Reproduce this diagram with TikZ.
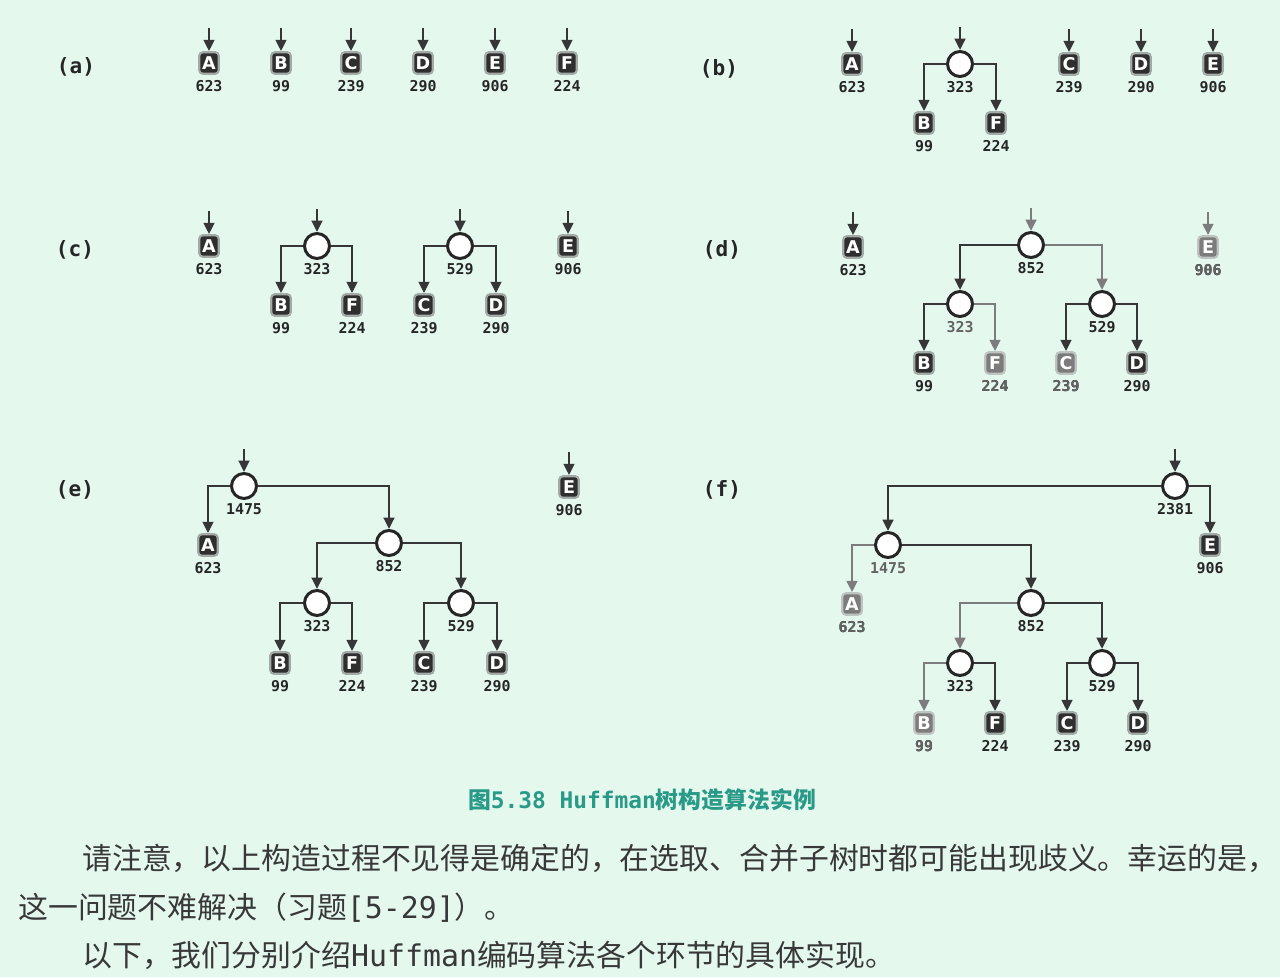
\documentclass[tikz,border=0pt]{standalone}
\usepackage{fontspec}
\setmainfont{DejaVu Sans}
\setsansfont{DejaVu Sans}
\setmonofont{DejaVu Sans Mono}
\newfontfamily\cjk{Noto Sans CJK SC}
\usetikzlibrary{arrows.meta}
\definecolor{bgmint}{HTML}{E4F8EE}
\definecolor{linedark}{HTML}{363636}
\definecolor{boxdark}{HTML}{2F2F2F}
\definecolor{halo}{HTML}{A3ABA7}
\definecolor{fadegray}{HTML}{7C7C7C}
\definecolor{captionteal}{HTML}{2A9A88}
\definecolor{bodytext}{HTML}{383838}
\tikzset{
  num/.style={font=\ttfamily\bfseries\fontsize{8.5}{9}\selectfont, text=#1, inner sep=1pt},
  num/.default=black!85,
  leafbox/.style={rectangle, rounded corners=2pt, draw=halo, line width=1.2pt,
                  fill=boxdark, text=white, minimum width=0.39cm, minimum height=0.43cm,
                  inner sep=0pt, font=\sffamily\bfseries\fontsize{10}{10}\selectfont,
                  label={[num, label distance=2pt]below:#1}},
  fadedbox/.style={leafbox=#1, fill=fadegray, draw=halo!70,
                   label={[num=fadegray!80!black, label distance=2pt]below:#1}},
  sumnode/.style={circle, draw=black!85, line width=1.7pt, fill=white,
                  minimum size=0.5cm, inner sep=0pt,
                  label={[num, label distance=1pt]below:#1}},
  fadedsum/.style={sumnode, label={[num=fadegray!80!black, label distance=1pt]below:#1}},
  arr/.style={-{Triangle[width=6pt,length=6.5pt]}, line width=1.6pt, draw=linedark},
  farr/.style={arr, draw=fadegray},
  panel/.style={font=\ttfamily\bfseries\fontsize{12}{12}\selectfont, text=black!85},
  para/.style={anchor=west, inner sep=0pt, text=bodytext, font=\cjk\fontsize{17}{17}\selectfont},
}

\begin{document}
\begin{tikzpicture}[x=0.02cm, y=-0.02cm]
  \useasboundingbox (0,0) rectangle (1280,977);
  \fill[bgmint] (0,0) rectangle (1280,977);

  % (a) six single leaves
  \node[panel] (la) at (76,67) {(a)};
  \node[leafbox=623] (aA) at (209,63) {A};
  \node[leafbox=99]  (aB) at (281,63) {B};
  \node[leafbox=239] (aC) at (351,63) {C};
  \node[leafbox=290] (aD) at (423,63) {D};
  \node[leafbox=906] (aE) at (495,63) {E};
  \node[leafbox=224] (aF) at (567,63) {F};

  % (b) B+F merged
  \node[panel] (lb) at (719,69) {(b)};
  \node[leafbox=623] (bA) at (852,64) {A};
  \node[sumnode=323] (b323) at (960,64) {};
  \node[leafbox=99]  (bB) at (924,123) {B};
  \node[leafbox=224] (bF) at (996,123) {F};
  \node[leafbox=239] (bC) at (1069,64) {C};
  \node[leafbox=290] (bD) at (1141,64) {D};
  \node[leafbox=906] (bE) at (1213,64) {E};
  \draw[arr] (b323.west) -| (bB.north);
  \draw[arr] (b323.east) -| (bF.north);

  % (c) C+D merged
  \node[panel] (lc) at (75,250) {(c)};
  \node[leafbox=623] (cA) at (209,246) {A};
  \node[sumnode=323] (c323) at (317,246) {};
  \node[leafbox=99]  (cB) at (281,305) {B};
  \node[leafbox=224] (cF) at (352,305) {F};
  \node[sumnode=529] (c529) at (460,246) {};
  \node[leafbox=239] (cC) at (424,305) {C};
  \node[leafbox=290] (cD) at (496,305) {D};
  \node[leafbox=906] (cE) at (568,246) {E};
  \draw[arr] (c323.west) -| (cB.north);
  \draw[arr] (c323.east) -| (cF.north);
  \draw[arr] (c529.west) -| (cC.north);
  \draw[arr] (c529.east) -| (cD.north);

  % (d) 323+529 merged
  \node[panel] (ld) at (722,250) {(d)};
  \node[leafbox=623] (dA) at (853,247) {A};
  \node[sumnode=852] (d852) at (1031,245) {};
  \node[fadedsum=323] (d323) at (960,304) {};
  \node[sumnode=529] (d529) at (1102,304) {};
  \node[leafbox=99]  (dB) at (924,363) {B};
  \node[fadedbox=224] (dF) at (995,363) {F};
  \node[fadedbox=239] (dC) at (1066,363) {C};
  \node[leafbox=290] (dD) at (1137,363) {D};
  \node[fadedbox=906] (dE) at (1208,247) {E};
  \draw[arr] (d852.west) -| (d323.north);
  \draw[farr] (d852.east) -| (d529.north);
  \draw[arr] (d323.west) -| (dB.north);
  \draw[farr] (d323.east) -| (dF.north);
  \draw[arr] (d529.west) -| (dC.north);
  \draw[arr] (d529.east) -| (dD.north);

  % (e) A+852 merged
  \node[panel] (le) at (75,490) {(e)};
  \node[sumnode=1475] (e1475) at (244,486) {};
  \node[leafbox=623] (eA) at (208,545) {A};
  \node[sumnode=852] (e852) at (389,543) {};
  \node[sumnode=323] (e323) at (317,603) {};
  \node[sumnode=529] (e529) at (461,603) {};
  \node[leafbox=99]  (eB) at (280,663) {B};
  \node[leafbox=224] (eF) at (352,663) {F};
  \node[leafbox=239] (eC) at (424,663) {C};
  \node[leafbox=290] (eD) at (497,663) {D};
  \node[leafbox=906] (eE) at (569,487) {E};
  \draw[arr] (e1475.west) -| (eA.north);
  \draw[arr] (e1475.east) -| (e852.north);
  \draw[arr] (e852.west) -| (e323.north);
  \draw[arr] (e852.east) -| (e529.north);
  \draw[arr] (e323.west) -| (eB.north);
  \draw[arr] (e323.east) -| (eF.north);
  \draw[arr] (e529.west) -| (eC.north);
  \draw[arr] (e529.east) -| (eD.north);

  % (f) final tree
  \node[panel] (lf) at (722,490) {(f)};
  \node[sumnode=2381] (f2381) at (1175,486) {};
  \node[fadedsum=1475] (f1475) at (888,545) {};
  \node[leafbox=906] (fE) at (1210,545) {E};
  \node[fadedbox=623] (fA) at (852,604) {A};
  \node[sumnode=852] (f852) at (1031,603) {};
  \node[sumnode=323] (f323) at (960,663) {};
  \node[sumnode=529] (f529) at (1102,663) {};
  \node[fadedbox=99] (fB) at (924,723) {B};
  \node[leafbox=224] (fF) at (995,723) {F};
  \node[leafbox=239] (fC) at (1067,723) {C};
  \node[leafbox=290] (fD) at (1138,723) {D};
  \draw[arr] (f2381.west) -| (f1475.north);
  \draw[arr] (f2381.east) -| (fE.north);
  \draw[farr] (f1475.west) -| (fA.north);
  \draw[arr] (f1475.east) -| (f852.north);
  \draw[farr] (f852.west) -| (f323.north);
  \draw[arr] (f852.east) -| (f529.north);
  \draw[farr] (f323.west) -| (fB.north);
  \draw[arr] (f323.east) -| (fF.north);
  \draw[arr] (f529.west) -| (fC.north);
  \draw[arr] (f529.east) -| (fD.north);

  % incoming arrows on the roots
  \foreach \n in {aA,aB,aC,aD,aE,aF,bA,b323,bC,bD,bE,cA,c323,c529,cE,dA,e1475,eE,f2381}
    \draw[arr] ([yshift=0.46cm]\n.north) -- (\n);
  \foreach \n in {d852,dE}
    \draw[farr] ([yshift=0.46cm]\n.north) -- (\n);

  % caption and body text
  \node[text=captionteal, font=\fontsize{13}{13}\selectfont] (cap) at (642,800)
    {\cjk\bfseries 图\ttfamily\bfseries 5.38 Huffman\cjk\bfseries 树构造算法实例};
  \node[para] (para1) at (82,858) {请注意，以上构造过程不见得是确定的，在选取、合并子树时都可能出现歧义。幸运的是，};
  \node[para] (para2) at (18,908) {这一问题不难解决（习题{\ttfamily[5-29]}）。};
  \node[para] (para3) at (82,955) {以下，我们分别介绍{\ttfamily Huffman}编码算法各个环节的具体实现。};
\end{tikzpicture}
\end{document}
